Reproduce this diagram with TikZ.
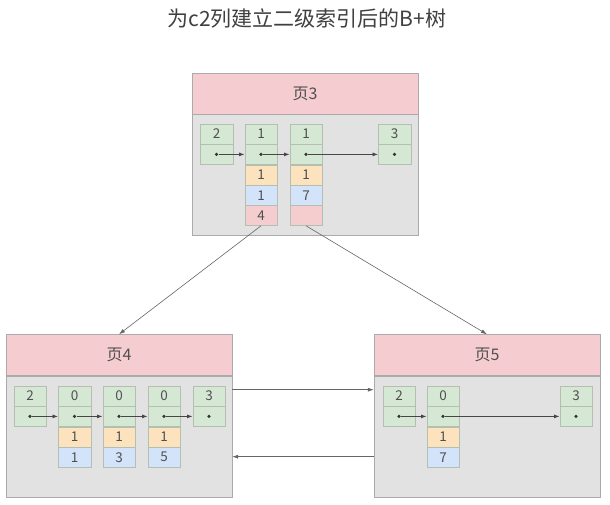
\documentclass[tikz,border=0pt]{standalone}
\usepackage{fontspec}
\setmainfont{Noto Sans CJK SC}
\usepackage{tikz}
\usetikzlibrary{arrows.meta,positioning}

\definecolor{hdpink}{HTML}{F5CDD0}
\definecolor{bodygray}{HTML}{E2E2E3}
\definecolor{framegray}{HTML}{ABABAB}
\definecolor{cellline}{HTML}{B4BFB2}
\definecolor{cgreen}{HTML}{D5E8D4}
\definecolor{cyellow}{HTML}{FCE3BE}
\definecolor{cblue}{HTML}{D3E3FA}
\definecolor{cpink}{HTML}{F6CDCE}
\definecolor{txt}{HTML}{505050}

\begin{document}
\begin{tikzpicture}[
  x=1pt, y=-1pt,
  head/.style={draw=framegray, fill=hdpink, minimum width=226pt, minimum height=41pt, inner sep=0, font=\fontsize{16}{18}\selectfont, text=txt},
  page/.style={draw=framegray, fill=bodygray, minimum width=226pt, minimum height=121pt, inner sep=0},
  cell/.style={draw=cellline, minimum width=32.5pt, minimum height=20pt, inner sep=0, font=\fontsize{13.5}{15}\selectfont, text=txt},
  key/.style={cell, fill=cgreen},
  mid/.style={cell, fill=cyellow},
  low/.style={cell, fill=cblue},
  down/.style={cell, fill=cpink},
  dot/.style={circle, fill=black!80, inner sep=0, minimum size=3.6pt},
  ptr/.style={-{Latex[length=5.5pt,width=4pt]}, draw=black!72, line width=0.8pt},
  arrow/.style={-{Latex[length=6pt,width=4pt]}, draw=black!60, line width=0.6pt}
]
\useasboundingbox[fill=white] (0,0) rectangle (610,505);

% title
\node[font=\fontsize{21}{24}\selectfont, text=black!75] (title) at (307,19) {为c2列建立二级索引后的B+树};

% page 3
\node[head] (p3head) at (305,93.5) {页3};
\node[page, below=0pt of p3head] (p3body) {};
\node[key] (p3a) at (216.5,134) {2};
\node[key, below=0pt of p3a] (p3a-p) {};
\node[key] (p3b) at (261,134) {1};
\node[key, below=0pt of p3b] (p3b-p) {};
\node[mid, below=0pt of p3b-p] (p3b-m) {1};
\node[low, below=0pt of p3b-m] (p3b-l) {1};
\node[down, below=0pt of p3b-l] (p3b-d) {4};
\node[key] (p3c) at (306,134) {1};
\node[key, below=0pt of p3c] (p3c-p) {};
\node[mid, below=0pt of p3c-p] (p3c-m) {1};
\node[low, below=0pt of p3c-m] (p3c-l) {7};
\node[down, below=0pt of p3c-l] (p3c-d) {};
\node[key] (p3e) at (394.5,134) {3};
\node[key, below=0pt of p3e] (p3e-p) {};
\node[dot] (p3a-o) at (p3a-p) {};
\node[dot] (p3b-o) at (p3b-p) {};
\node[dot] (p3c-o) at (p3c-p) {};
\node[dot] (p3e-o) at (p3e-p) {};
\draw[ptr] (p3a-o) -- (p3b-p);
\draw[ptr] (p3b-o) -- (p3c-p);
\draw[ptr] (p3c-o) -- (p3e-p);

% page 4
\node[head] (p4head) at (119,355) {页4};
\node[page, below=0pt of p4head] (p4body) {};
\node[key] (p4a) at (30,396) {2};
\node[key, below=0pt of p4a] (p4a-p) {};
\node[key] (p4b) at (74.5,396) {0};
\node[key, below=0pt of p4b] (p4b-p) {};
\node[mid, below=0pt of p4b-p] (p4b-m) {1};
\node[low, below=0pt of p4b-m] (p4b-l) {1};
\node[key] (p4c) at (119,396) {0};
\node[key, below=0pt of p4c] (p4c-p) {};
\node[mid, below=0pt of p4c-p] (p4c-m) {1};
\node[low, below=0pt of p4c-m] (p4c-l) {3};
\node[key] (p4d) at (164,396) {0};
\node[key, below=0pt of p4d] (p4d-p) {};
\node[mid, below=0pt of p4d-p] (p4d-m) {1};
\node[low, below=0pt of p4d-m] (p4d-l) {5};
\node[key] (p4e) at (209,396) {3};
\node[key, below=0pt of p4e] (p4e-p) {};
\node[dot] (p4a-o) at (p4a-p) {};
\node[dot] (p4b-o) at (p4b-p) {};
\node[dot] (p4c-o) at (p4c-p) {};
\node[dot] (p4d-o) at (p4d-p) {};
\node[dot] (p4e-o) at (p4e-p) {};
\draw[ptr] (p4a-o) -- (p4b-p);
\draw[ptr] (p4b-o) -- (p4c-p);
\draw[ptr] (p4c-o) -- (p4d-p);
\draw[ptr] (p4d-o) -- (p4e-p);

% page 5
\node[head] (p5head) at (487,355) {页5};
\node[page, below=0pt of p5head] (p5body) {};
\node[key] (p5a) at (399,396) {2};
\node[key, below=0pt of p5a] (p5a-p) {};
\node[key] (p5b) at (443,396) {0};
\node[key, below=0pt of p5b] (p5b-p) {};
\node[mid, below=0pt of p5b-p] (p5b-m) {1};
\node[low, below=0pt of p5b-m] (p5b-l) {7};
\node[key] (p5e) at (576,396) {3};
\node[key, below=0pt of p5e] (p5e-p) {};
\node[dot] (p5a-o) at (p5a-p) {};
\node[dot] (p5b-o) at (p5b-p) {};
\node[dot] (p5e-o) at (p5e-p) {};
\draw[ptr] (p5a-o) -- (p5b-p);
\draw[ptr] (p5b-o) -- (p5e-p);

% links between pages
\draw[arrow] (p3b-d.south) -- (p4head.north);
\draw[arrow] (p3c-d.south) -- (p5head.north);
\draw[arrow] ([yshift=-14pt]p4body.north east) -- ([yshift=-14pt]p5body.north west);
\draw[arrow] ([yshift=-81pt]p5body.north west) -- ([yshift=-81pt]p4body.north east);
\end{tikzpicture}
\end{document}
